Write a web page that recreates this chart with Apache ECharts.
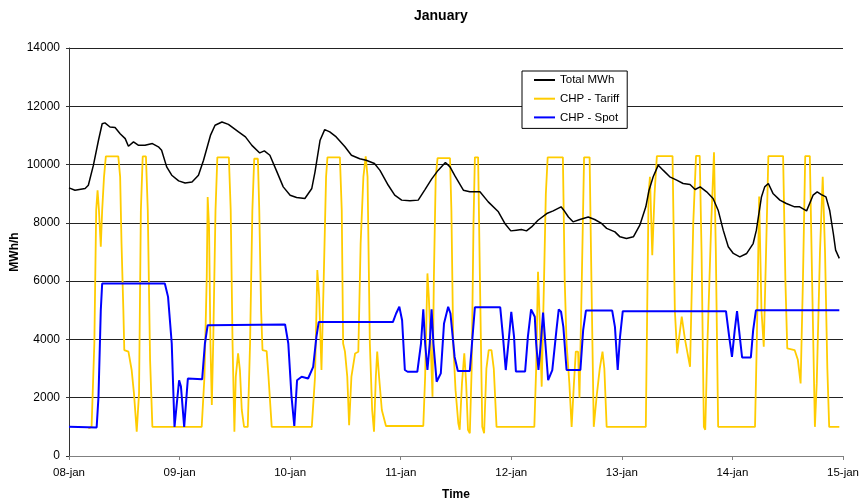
<!DOCTYPE html>
<html>
<head>
<meta charset="utf-8">
<script src="https://cdn.jsdelivr.net/npm/echarts@6/dist/echarts.min.js"></script>
<style>
html,body{margin:0;padding:0;background:#fff;}
#c{width:861px;height:502px;}
</style>
</head>
<body>
<div id="c"></div>
<script>
const dayLabels = ['08-jan','09-jan','10-jan','11-jan','12-jan','13-jan','14-jan','15-jan'];
const seriesNames = ['Total MWh','CHP - Tariff','CHP - Spot'];

const totalHours = [0,1.3,3.5,4.2,5.3,6.4,7.2,7.8,8.9,10,11.1,12.2,12.9,14,15.1,16.5,18.1,19.4,20.1,21.2,22.3,23.8,25.2,26.7,28.1,29.2,30.7,31.7,33.2,34.6,36.8,38.3,39.7,41.4,42.4,43.6,45,46.5,48,49.4,51.2,52.7,53.4,54.5,55.5,56.6,58,59.9,61.3,63.1,64.5,66.3,67.5,69.3,70.7,72.2,74,75.8,77.3,78.7,80.1,81.7,82.7,83.8,85.6,87,89.2,91,93.2,94.6,95.9,97.1,98.2,99.3,100.4,101.8,103.7,105.1,106.8,107.4,108.4,109.4,110.9,112.7,114.1,115.6,116.7,118.5,119.6,121,122.5,123.9,125.2,125.9,126.8,127.9,129,130.4,131.9,133.3,134.8,135.9,137,138.4,139.8,140.9,142,143.1,144.2,145.6,147.1,148.5,149.2,150.3,151,151.8,152.8,154.3,155.7,157.5,158.6,160.1,161.5,162.4,163.3,164.3,165.1,165.9,166.4,167.2];
const totalValues = [9200,9120,9180,9290,9980,10835,11400,11430,11290,11270,11060,10890,10630,10780,10660,10660,10720,10610,10490,9920,9635,9440,9370,9400,9635,10150,11000,11350,11460,11380,11120,10950,10660,10400,10470,10320,9800,9235,8950,8870,8835,9180,9750,10835,11200,11120,10950,10610,10320,10200,10150,10035,9800,9290,8950,8780,8755,8780,9150,9500,9800,10070,9920,9600,9120,9065,9065,8720,8380,7980,7725,7750,7770,7725,7860,8090,8320,8410,8550,8435,8200,8035,8115,8200,8115,7980,7810,7690,7520,7465,7520,7920,8550,9120,9580,9980,9800,9580,9465,9350,9315,9145,9235,9065,8835,8435,7750,7180,6950,6835,6950,7290,7750,8890,9235,9350,9010,8780,8665,8550,8550,8410,8950,9065,8970,8890,8435,7635,7065,6780];

const tariffHours = [4.2,4.9,5.5,5.9,6.2,6.5,6.9,7.2,7.6,8.0,10.7,11.1,11.4,11.8,12.0,12.9,13.6,14.1,14.7,15.2,15.6,16.0,16.7,17.1,17.6,18.1,28.8,29.4,29.9,30.1,30.4,30.7,31.0,31.3,31.8,32.2,34.7,35.1,35.5,35.9,36.2,36.7,37.1,37.5,38.0,38.8,39.3,39.8,40.2,41.0,41.3,41.7,42.0,42.9,43.3,44.0,52.7,53.4,53.9,54.3,54.8,55.3,55.8,56.1,58.8,59.2,59.5,59.9,60.4,60.8,61.3,62.1,62.8,63.3,63.9,64.4,64.8,65.3,65.8,66.2,66.6,66.9,67.3,67.9,68.8,76.9,77.3,77.8,78.1,78.5,78.9,79.2,79.6,80.0,82.7,83.0,83.4,83.9,84.5,84.8,85.3,85.8,86.2,86.6,87.0,87.4,87.8,88.1,88.8,89.2,89.7,90.1,90.6,91.1,91.7,92.2,92.8,101.0,101.4,101.8,102.1,102.6,103.1,103.5,103.9,107.2,107.6,108.0,108.6,109.1,109.6,110.0,110.5,110.8,111.3,111.8,113.0,113.4,113.9,114.5,115.2,115.8,116.2,116.7,125.2,125.5,125.8,126.1,126.6,127.1,127.6,131.0,131.5,132.0,133.0,133.7,134.8,135.5,136.1,136.9,137.3,137.8,138.1,138.6,139.4,140.0,140.4,140.9,148.9,149.3,149.8,150.3,150.8,151.3,151.8,155.0,155.5,155.9,157.5,158.2,158.8,159.3,159.8,160.8,161.3,161.9,162.3,163.0,163.6,164.1,164.6,165.0,167.2];
const tariffValues = [950,1000,3860,8435,9120,8435,7180,8435,9580,10280,10280,9580,7290,5000,3635,3580,2950,2150,835,2150,8435,10280,10280,8435,3290,1000,1000,2720,6150,8890,7860,3860,1750,3860,8435,10250,10250,8435,3860,835,2720,3520,2950,1580,1000,1000,3860,8435,10200,10200,8435,5000,3635,3600,2720,1000,1000,2720,6380,5460,2950,6150,9580,10250,10250,8435,3860,3580,2720,1060,2720,3520,3580,7290,9580,10280,9580,3860,1580,835,2720,3580,2720,1580,1030,1030,2720,6265,5460,3860,2035,6150,9580,10220,10220,8435,3860,2260,1120,900,2500,3520,2500,900,780,3000,8000,10250,10250,6000,1000,780,3000,3630,3630,3000,1000,1000,3000,6320,5000,2380,6000,9000,10250,10250,6000,3860,2500,1000,2500,3580,3580,2000,6000,10250,10250,6000,1000,2000,3000,3580,3000,1000,1000,5000,9000,9580,6890,9000,10290,10290,5000,3520,4780,4000,3060,8000,10300,10300,7000,1000,900,4000,8000,10420,7000,1000,1000,4000,8900,5000,3750,7000,10290,10290,6000,3690,3635,3300,2490,6000,10290,10290,6000,1000,2500,7000,9580,7000,3000,1000,1000];

const spotHours = [0,6.0,6.4,6.9,7.2,20.8,21.5,22.3,22.9,23.1,23.9,24.3,25.0,25.8,28.9,29.5,30.1,46.9,47.6,48.3,48.9,49.5,50.5,51.9,53.0,53.7,54.2,70.3,71.0,71.7,72.3,72.9,73.5,75.6,76.4,76.9,77.3,77.8,78.3,78.7,79.1,79.8,80.7,81.4,82.3,82.8,83.7,84.4,87.0,87.7,88.1,93.6,94.2,94.8,95.5,96.0,96.6,97.0,99.0,99.6,100.3,101.1,101.4,101.9,102.4,102.9,103.4,104.0,104.9,105.8,106.3,106.8,107.3,108.0,111.0,111.6,112.2,117.9,118.5,119.1,119.6,120.2,142.6,143.3,143.9,144.5,145.0,145.6,146.1,148.0,148.5,149.1,167.2];
const spotValues = [1000,980,2035,5000,5920,5920,5460,3860,1000,1000,2600,2380,1000,2660,2630,3860,4490,4515,3860,2035,1030,2600,2720,2660,3060,4090,4595,4595,4890,5120,4660,2950,2890,2890,3860,5030,3860,2950,3860,5030,3860,2550,2835,4550,5120,4890,3400,2920,2920,4320,5100,5100,4090,2950,4070,4950,4090,2900,2900,4090,5030,4780,3860,2950,3860,4925,3860,2600,2950,4320,5030,4950,4430,2950,2950,4320,4990,4990,4430,2950,4090,4970,4970,4090,3400,4320,4970,4090,3380,3380,4320,5000,5000];

function pairs(hs, vs){ return hs.map((h,i)=>[h, vs[i]]); }

const FONT = '"Liberation Sans", Arial, sans-serif';
const chart = echarts.init(document.getElementById('c'), null, {renderer:'canvas'});
chart.setOption({
  animation: false,
  backgroundColor: '#fff',
  title: {
    text: 'January', left: 414, top: 9, padding: 0,
    textStyle: {fontFamily: FONT, fontSize: 14, fontWeight: 'bold', color: '#000'}
  },
  legend: {
    orient: 'vertical', left: 522, top: 71,
    padding: [3, 8, 5, 12],
    icon: 'rect',
    itemWidth: 21, itemHeight: 2, itemGap: 6.7,
    backgroundColor: '#fff', borderColor: '#000', borderWidth: 1, borderRadius: 0,
    textStyle: {fontFamily: FONT, fontSize: 11.5, color: '#000', lineHeight: 12},
    data: seriesNames
  },
  grid: {left: 69, right: 18, top: 48, bottom: 46, containLabel: false, outerBoundsMode: 'none'},
  xAxis: {
    type: 'value', min: 0, max: 168, interval: 24,
    name: 'Time', nameLocation: 'middle', nameGap: 33, nameMoveOverlap: false,
    nameTextStyle: {fontFamily: FONT, fontSize: 12, fontWeight: 'bold', color: '#000'},
    axisLine: {show: true, lineStyle: {color: '#808080', width: 1}},
    axisTick: {show: true, length: 4, lineStyle: {color: '#808080'}},
    axisLabel: {fontFamily: FONT, fontSize: 11.5, color: '#000', margin: 11,
      formatter: v => dayLabels[Math.round(v/24)]},
    splitLine: {show: false}
  },
  yAxis: {
    type: 'value', min: 0, max: 14000, interval: 2000,
    name: 'MWh/h', nameLocation: 'middle', nameGap: 48, nameRotate: 90, nameMoveOverlap: false,
    nameTextStyle: {fontFamily: FONT, fontSize: 12, fontWeight: 'bold', color: '#000'},
    axisLine: {show: true, lineStyle: {color: '#333', width: 1}},
    axisTick: {show: true, length: 3, lineStyle: {color: '#333'}},
    axisLabel: {fontFamily: FONT, fontSize: 12, color: '#000', margin: 9,
      formatter: v => String(v)},
    splitLine: {show: true, lineStyle: {color: '#222', width: 1}}
  },
  series: [
    {name: seriesNames[0], type: 'line', symbol: 'none', showSymbol: false,
     lineStyle: {color: '#000', width: 1.5}, itemStyle: {color: '#000'},
     data: pairs(totalHours, totalValues), z: 3},
    {name: seriesNames[1], type: 'line', symbol: 'none', showSymbol: false,
     lineStyle: {color: '#FFCC00', width: 1.8}, itemStyle: {color: '#FFCC00'},
     data: pairs(tariffHours, tariffValues), z: 2},
    {name: seriesNames[2], type: 'line', symbol: 'none', showSymbol: false,
     lineStyle: {color: '#0000FF', width: 2}, itemStyle: {color: '#0000FF'},
     data: pairs(spotHours, spotValues), z: 4}
  ]
});
</script>
</body>
</html>
